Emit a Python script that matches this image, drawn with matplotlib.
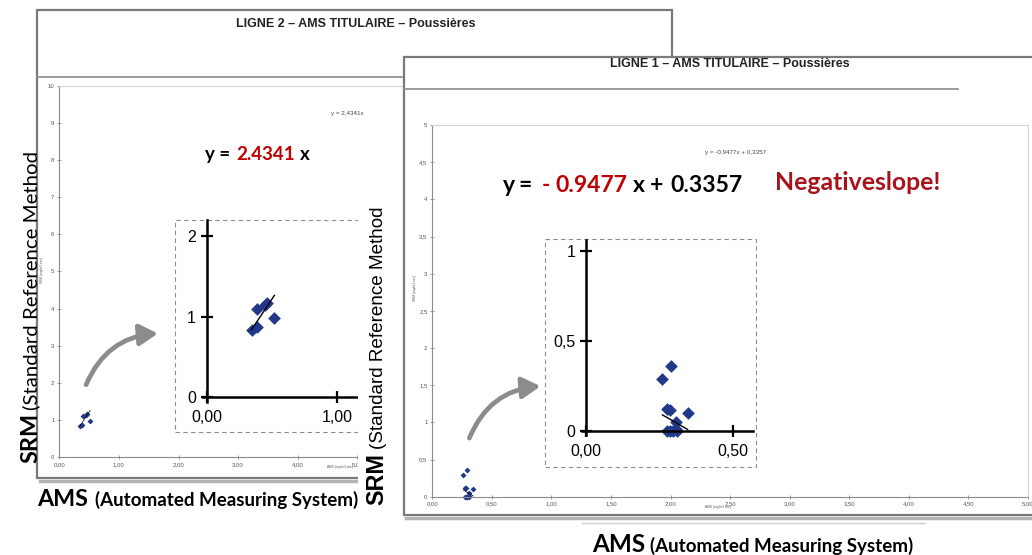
import matplotlib
matplotlib.use('Agg')
import matplotlib.pyplot as plt
import numpy as np
from matplotlib.patches import Rectangle, FancyArrowPatch
from matplotlib.lines import Line2D

# LIGNE 2 (left screenshot) - AMS vs SRM
l2_ams = [0.345, 0.385, 0.39, 0.45, 0.46, 0.52]
l2_srm = [0.84, 0.875, 1.10, 1.15, 1.17, 0.99]
l2_slope = 2.4341

# LIGNE 1 (right screenshot)
l1_ams = [0.26, 0.29, 0.275, 0.285, 0.345, 0.305, 0.275, 0.285, 0.295, 0.305, 0.31]
l1_srm = [0.29, 0.36, 0.12, 0.115, 0.10, 0.05, 0.0, 0.0, 0.0, 0.01, 0.0]
l1_slope = -0.9477
l1_icpt = 0.3357

l2_xticks = [0, 1, 2, 3, 4, 5]
l2_yticks = [0, 1, 2, 3, 4, 5, 6, 7, 8, 9, 10]
l1_xticks = [0, 0.5, 1, 1.5, 2, 2.5, 3, 3.5, 4, 4.5, 5]
l1_yticks = [0, 0.5, 1, 1.5, 2, 2.5, 3, 3.5, 4, 4.5, 5]
l2_zoom_xticks = [0, 1]
l2_zoom_yticks = [0, 1, 2]
l1_zoom_xticks = [0, 0.5]
l1_zoom_yticks = [0, 0.5, 1]

W, H = 1032, 555
fig = plt.figure(figsize=(W / 100, H / 100), dpi=100)
fig.patch.set_facecolor('white')
renderer = fig.canvas.get_renderer()

NAVY = '#22388a'
RED = '#c00000'
DARKRED = '#a8121a'
ARIAL = 'Liberation Sans'
CALIBRI = 'Lato'


def fr2(v):
    return f'{v:.2f}'.replace('.', ',')


def frg(v):
    return f'{v:g}'.replace('.', ',')


def px_rect(x0, y0, x1, y1):
    return [x0 / W, 1 - y1 / H, (x1 - x0) / W, (y1 - y0) / H]


def fig_rect(x0, y0, x1, y1, z, **kw):
    fig.add_artist(Rectangle((x0 / W, 1 - y1 / H), (x1 - x0) / W, (y1 - y0) / H,
                             transform=fig.transFigure, zorder=z, **kw))


def fig_line(x0, y0, x1, y1, z, **kw):
    fig.add_artist(Line2D([x0 / W, x1 / W], [1 - y0 / H, 1 - y1 / H],
                          transform=fig.transFigure, zorder=z, **kw))


def fig_text(x, y, s, z, **kw):
    return fig.text(x / W, 1 - y / H, s, zorder=z, **kw)


def fit_text(x, y, s, z, length, **kw):
    # scale the font so the text spans `length` pixels like in the screenshot
    t = fig_text(x, y, s, z, **kw)
    bb = t.get_window_extent(renderer)
    cur = bb.height if kw.get('rotation') == 90 else bb.width
    t.set_fontsize(t.get_fontsize() * length / cur)
    return t


def fig_arrow(a, b, z):
    arr = FancyArrowPatch((a[0] / W, 1 - a[1] / H), (b[0] / W, 1 - b[1] / H),
                          transform=fig.transFigure, zorder=z,
                          connectionstyle='arc3,rad=-0.32',
                          arrowstyle='-|>,head_length=0.55,head_width=0.32',
                          mutation_scale=20, color='#8c8c8c', lw=3.4)
    fig.add_artist(arr)


def place_axes(ox, oy, sx, sy, x0, y0, x1, y1, z):
    # ox, oy: pixel of data origin; sx, sy: pixels per unit
    ax = fig.add_axes(px_rect(x0, y0, x1, y1), zorder=z)
    ax.set_xlim((x0 - ox) / sx, (x1 - ox) / sx)
    ax.set_ylim((oy - y1) / sy, (oy - y0) / sy)
    ax.set_facecolor('none')
    return ax


def excel_style(ax, xticks, yticks, right=True):
    ax.set_xticks(xticks, [fr2(v) for v in xticks])
    ax.set_yticks(yticks, [frg(v) for v in yticks])
    for s in ('left', 'bottom'):
        ax.spines[s].set_color('#8c8c8c')
        ax.spines[s].set_linewidth(0.8)
    for s in ('top', 'right'):
        ax.spines[s].set_color('#d4d4d4')
        ax.spines[s].set_linewidth(0.8)
    ax.spines['right'].set_visible(right)
    ax.tick_params(direction='inout', length=3, width=0.6, color='#8c8c8c',
                   labelsize=4.3, labelcolor='#555555', pad=2)
    for lab in ax.get_xticklabels() + ax.get_yticklabels():
        lab.set_fontfamily(ARIAL)


def zoom_style(ax, xticks, yticks):
    for s in ('top', 'right'):
        ax.spines[s].set_visible(False)
    for s in ('left', 'bottom'):
        ax.spines[s].set_color('black')
        ax.spines[s].set_linewidth(1.8)
        ax.spines[s].set_position(('data', 0))
    ax.set_xticks(xticks, [fr2(v) for v in xticks])
    ax.set_yticks(yticks, [frg(v) for v in yticks])
    ax.tick_params(direction='inout', length=9, width=1.6, labelsize=11.5, pad=3)
    ax.tick_params(axis='x', pad=5)
    for lab in ax.get_xticklabels() + ax.get_yticklabels():
        lab.set_fontfamily(ARIAL)


# ---------------- left screenshot (LIGNE 2) ----------------
fig_rect(37.3, 10, 672, 478, 0.1, facecolor='white', edgecolor='#7a7a7a', lw=1.6)
fig_line(40, 481, 358, 481, 0.1, color='#b4b4b4', lw=2.5)
fig_line(37.3, 76.7, 672, 76.7, 0.15, color='#8a8a8a', lw=1.2)
fit_text(356, 24, 'LIGNE 2 – AMS TITULAIRE – Poussières', 0.35, 240, ha='center', va='center',
         family=ARIAL, weight='bold', size=7.5, color='#222222')

ax2 = place_axes(59.3, 457.3, 59.6, 37.17, 59.3, 85.6, 403, 457.3, 0.2)
excel_style(ax2, l2_xticks, l2_yticks, right=False)
ax2.scatter(l2_ams, l2_srm, marker='D', s=9, color=NAVY, linewidths=0)
xs = np.array([min(l2_ams), max(l2_ams)])
ax2.plot(xs, l2_slope * xs, color='black', lw=0.5)

fig_rect(175, 220, 375, 431.7, 0.25, facecolor='none', edgecolor='#8c8c8c', lw=0.8,
         linestyle=(0, (4, 3)))
ax2z = place_axes(206.5, 397.3, 130.5, 80.5, 203, 220, 370, 401.7, 0.3)
zoom_style(ax2z, l2_zoom_xticks, l2_zoom_yticks)
ax2z.plot(xs, l2_slope * xs, color='black', lw=1.0, zorder=3)
ax2z.scatter(l2_ams, l2_srm, marker='D', s=42, color=NAVY, linewidths=0, clip_on=False)

fig_text(331, 115, 'y = 2,4341x', 0.35, family=ARIAL, size=4.5, color='#444444', va='baseline')
fig_text(205, 160, 'y =', 0.35, family=CALIBRI, weight='bold', size=13.5, va='baseline')
fig_text(236, 160, '2.4341', 0.35, family=CALIBRI, weight='bold', size=13.5, va='baseline', color=RED)
fig_text(300, 160, 'x', 0.35, family=CALIBRI, weight='bold', size=13.5, va='baseline')
fig_text(42, 270, 'SRM (mg/m3 sec)', 0.35, family=ARIAL, size=2.3, rotation=90,
         ha='center', va='center', color='#555555')
fig_text(340, 467, 'AMS (mg/m3 sec)', 0.35, family=ARIAL, size=2.3,
         ha='center', va='center', color='#555555')
fig_arrow((85, 387.3), (160.7, 333.3), 0.35)

# white cut between the two screenshots
fig_rect(358, 200, 403.5, 556, 0.5, facecolor='white', edgecolor='none')

fit_text(37, 463, 'SRM', 0.6, 50, family=CALIBRI, weight='bold', size=18, rotation=90,
         rotation_mode='anchor', ha='left', va='baseline')
fit_text(37, 410, '(Standard Reference Method', 0.6, 260, family=CALIBRI, size=15, rotation=90,
         rotation_mode='anchor', ha='left', va='baseline')
fit_text(37, 506, 'AMS', 0.6, 51, family=CALIBRI, weight='bold', size=17, va='baseline')
fit_text(95, 506, '(Automated Measuring System)', 0.6, 263, family=CALIBRI, weight='bold',
         size=12.5, va='baseline')

fit_text(383, 505, 'SRM', 0.6, 52, family=ARIAL, weight='bold', size=16, rotation=90,
         rotation_mode='anchor', ha='left', va='baseline')
fit_text(383, 449, '(Standard Reference Method', 0.6, 244, family=ARIAL, size=13.5, rotation=90,
         rotation_mode='anchor', ha='left', va='baseline')

# ---------------- right screenshot (LIGNE 1) ----------------
fig_rect(404, 56.7, 1045, 515, 1.0, facecolor='white', edgecolor='#7a7a7a', lw=1.6)
fig_line(406, 518, 1032, 518, 1.0, color='#b4b4b4', lw=2.5)
fig_line(582, 523, 925, 523, 1.05, color='#d0d0d0', lw=1)
fig_line(404, 89.3, 958, 89.3, 1.05, color='#8a8a8a', lw=1.2)
fit_text(730, 64, 'LIGNE 1 – AMS TITULAIRE – Poussières', 1.3, 240, ha='center', va='center',
         family=ARIAL, weight='bold', size=7.5, color='#222222')

ax1 = place_axes(432.3, 496.7, 119.1, 74.3, 432.3, 125.2, 1027.8, 496.7, 1.1)
excel_style(ax1, l1_xticks, l1_yticks, right=True)
ax1.scatter(l1_ams, l1_srm, marker='D', s=9, color=NAVY, linewidths=0, clip_on=False)
xs1 = np.array([min(l1_ams), max(l1_ams)])
ax1.plot(xs1, l1_slope * xs1 + l1_icpt, color='black', lw=0.5)

fig_rect(545, 239.3, 756, 467.3, 1.15, facecolor='none', edgecolor='#8c8c8c', lw=0.8,
         linestyle=(0, (4, 3)))
ax1z = place_axes(585.7, 431, 295.3, 180.3, 581.7, 240, 753, 435, 1.2)
zoom_style(ax1z, l1_zoom_xticks, l1_zoom_yticks)
ax1z.plot(xs1, l1_slope * xs1 + l1_icpt, color='black', lw=1.0, zorder=3)
ax1z.scatter(l1_ams, l1_srm, marker='D', s=42, color=NAVY, linewidths=0, clip_on=False)

fig_text(705, 154, 'y = -0,9477x + 0,3357', 1.3, family=ARIAL, size=4.5, color='#444444',
         va='baseline')
eq_kw = dict(family=CALIBRI, weight='bold', size=16.5, va='baseline')
fig_text(503, 191.7, 'y', 1.3, **eq_kw)
fig_text(518, 191.7, '=', 1.3, **eq_kw)
fig_text(542, 191.7, '-', 1.3, color=RED, **eq_kw)
fig_text(555, 191.7, '0.9477', 1.3, color=RED, **eq_kw)
fig_text(633, 191.7, 'x', 1.3, **eq_kw)
fig_text(650, 191.7, '+', 1.3, **eq_kw)
fig_text(670, 191.7, '0.3357', 1.3, **eq_kw)
fit_text(775, 190, 'Negativeslope!', 1.3, 165, color=DARKRED, **eq_kw)

fig_text(415, 288, 'SRM (mg/m3 sec)', 1.3, family=ARIAL, size=2.3, rotation=90,
         ha='center', va='center', color='#555555')
fig_text(718, 507, 'AMS (mg/m3 sec)', 1.3, family=ARIAL, size=2.3,
         ha='center', va='center', color='#555555')
fig_arrow((468.3, 440.7), (543.3, 386), 1.3)

fit_text(592, 552, 'AMS', 1.3, 53, family=CALIBRI, weight='bold', size=17, va='baseline')
fit_text(650, 552, '(Automated Measuring System)', 1.3, 263, family=CALIBRI, weight='bold',
         size=12.5, va='baseline')

plt.savefig('out.png', dpi=100)
